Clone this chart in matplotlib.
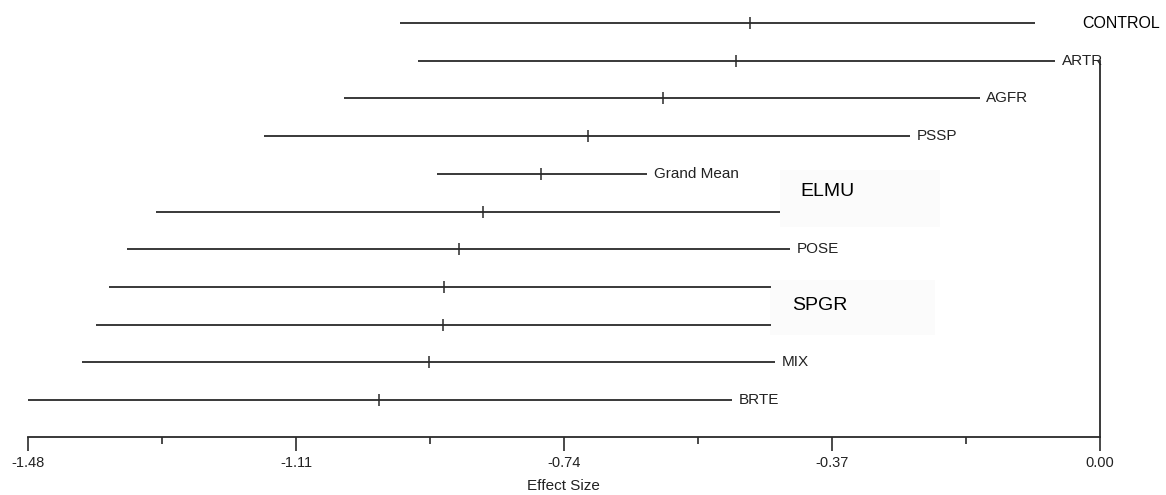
import matplotlib.pyplot as plt
from matplotlib.patches import Rectangle

# effect sizes (lower, mean, upper)
labels = ["", "ARTR", "AGFR", "PSSP", "Grand Mean", "", "POSE", "", "", "MIX", "BRTE"]
lower = [-0.966, -0.942, -1.044, -1.154, -0.915, -1.303, -1.343, -1.368, -1.386, -1.405, -1.480]
mean = [-0.483, -0.503, -0.603, -0.707, -0.772, -0.852, -0.885, -0.906, -0.907, -0.926, -0.995]
upper = [-0.090, -0.062, -0.166, -0.262, -0.625, -0.442, -0.428, -0.454, -0.454, -0.449, -0.508]

# pasted-over group labels (text, x, row, size)
big_labels = [("CONTROL", -0.025, 0.0, 11.5), ("ELMU", -0.414, 4.48, 14), ("SPGR", -0.425, 7.48, 14)]
xticks = [-1.48, -1.11, -0.74, -0.37, 0.00]

fig = plt.figure(figsize=(11.66, 4.95), dpi=100)
ax = fig.add_axes([28 / 1166, 58 / 495, 1072 / 1166, 437 / 495])

line_col = "#2a2a2a"
small = dict(family="Liberation Sans", fontsize=11, color="#222222")

# faint boxes behind the pasted labels
ax.add_patch(Rectangle((-0.442, 3.9), 0.221, 1.51, facecolor="#fbfbfb", edgecolor="none", zorder=0))
ax.add_patch(Rectangle((-0.456, 6.82), 0.228, 1.46, facecolor="#fbfbfb", edgecolor="none", zorder=0))

rows = list(range(len(labels)))
for i in rows:
    ax.plot([lower[i], upper[i]], [i, i], color=line_col, lw=1.3, solid_capstyle="butt", zorder=2)
    ax.plot(mean[i], i, marker="|", markersize=8, mew=1.1, color=line_col, zorder=3)
    if labels[i]:
        ax.text(upper[i] + 0.009, i, labels[i], va="center", ha="left", **small)

for txt, x, y, size in big_labels:
    ax.text(x, y, txt, va="center", ha="left", family="Liberation Sans",
            fontsize=size, color="black", clip_on=False)

ax.set_xlim(-1.48, 0.0)
ax.set_ylim(10.98, -0.61)

ax.set_xticks(xticks)
ax.set_xticklabels(["%.2f" % t for t in xticks])
ax.set_xticks([-1.295, -0.925, -0.555, -0.185], minor=True)
ax.set_yticks([])
ax.tick_params(axis="x", which="major", length=10, width=1.2, color=line_col, pad=4,
               labelsize=10.5, labelcolor="#222222")
ax.tick_params(axis="x", which="minor", length=5, width=1.2, color=line_col)
for lab in ax.get_xticklabels():
    lab.set_family("Liberation Sans")

ax.spines["top"].set_visible(False)
ax.spines["left"].set_visible(False)
ax.spines["bottom"].set_color(line_col)
ax.spines["bottom"].set_linewidth(1.3)
ax.spines["right"].set_color(line_col)
ax.spines["right"].set_linewidth(1.3)
ax.spines["right"].set_bounds(1.0, 10.98)
ax.patch.set_alpha(0)

fig.text(563 / 1166, 1 - 486 / 495, "Effect Size", ha="center", va="center", **small)

fig.savefig("out.png", dpi=100)
